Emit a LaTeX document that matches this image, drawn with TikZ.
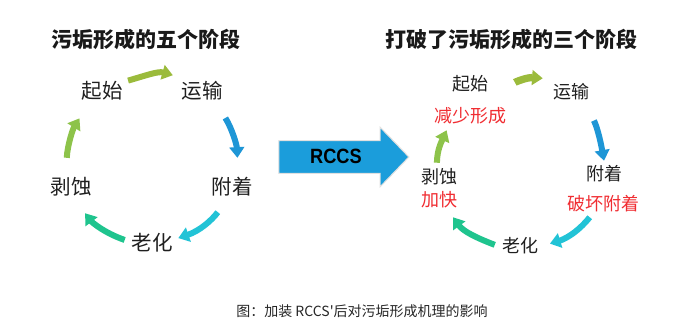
\documentclass[tikz,border=0pt]{standalone}
\usepackage{fontspec}
\usepackage{tikz}
\usetikzlibrary{arrows.meta,shapes.arrows}
\setmainfont{Noto Sans CJK SC}
\newfontfamily\rccsfont{Liberation Sans}[FakeStretch=0.88]
\definecolor{grnA}{RGB}{155,187,60}
\definecolor{grnB}{RGB}{141,195,74}
\definecolor{bluA}{RGB}{30,150,214}
\definecolor{cyaA}{RGB}{34,195,214}
\definecolor{teaA}{RGB}{31,196,142}
\definecolor{bigA}{RGB}{27,157,219}
\definecolor{redA}{RGB}{240,45,50}

\begin{document}
\begin{tikzpicture}[x=0.75pt,y=0.75pt,
ttl/.style={font=\fontsize{15.75pt}{18pt}\selectfont\bfseries,text=black!90},
stg/.style={font=\fontsize{15.4pt}{18pt}\selectfont,inner sep=3pt,text height=13pt,text depth=2.4pt,text=black!88},
stgr/.style={font=\fontsize{13.5pt}{16pt}\selectfont,inner sep=3pt,text height=11.4pt,text depth=2.1pt,text=black!88},
note/.style={stgr,text=redA},
arr/.style={line width=4.5pt,-{Triangle[length=8pt,width=11pt]}}]
\useasboundingbox (0,0) rectangle (700,335);
\node[ttl] (tL) at (146,295) {污垢形成的五个阶段};
\node[stg] (qsL) at (102,244) {起始};
\node[stg] (ysL) at (202,244) {运输};
\node[stg] (fzL) at (232,148) {附着};
\node[stg] (lhL) at (152,92) {老化};
\node[stg] (bsL) at (71,148) {剥蚀};
\draw[arr,grnA,shorten <=1pt,shorten >=3.4pt] (qsL.22) to[out=16,in=164] (ysL.north west);
\draw[arr,bluA,shorten <=11pt,shorten >=11pt] (ysL.-43) to[out=-58,in=93] (fzL.67);
\draw[arr,cyaA,shorten <=10pt,shorten >=1.2pt] (fzL.247) to[out=-127,in=19] (lhL.10);
\draw[arr,teaA,shorten <=2pt,shorten >=11pt] (lhL.175) to[out=161,in=-53] (bsL.-70);
\draw[arr,grnB,shorten <=11pt,shorten >=11.3pt] (bsL.109) to[out=87,in=-122] (qsL.225);
\node[single arrow,fill=bigA,draw=black!12,line width=0.8pt,minimum height=97.5pt,
  inner xsep=0pt,inner ysep=6.6pt,text height=10.5pt,text depth=0pt,
  single arrow head extend=10.1pt,single arrow tip angle=92,
  font=\rccsfont\bfseries\fontsize{15.5pt}{17pt}\selectfont] (rccs) at (336,178) {RCCS};
\node[ttl] (tR) at (511,295) {打破了污垢形成的三个阶段};
\node[stgr] (qsR) at (470,251) {起始};
\node[note] (jsR) at (470,219) {减少形成};
\node[stgr] (ysR) at (571,243) {运输};
\node[stgr] (fzR) at (604,161) {附着};
\node[note] (phR) at (603,131) {破坏附着};
\node[stgr] (lhR) at (520,89) {老化};
\node[stgr] (bsR) at (439,158) {剥蚀};
\node[note] (jkR) at (439,135) {加快};
\draw[arr,grnA,line width=5.5pt,shorten <=17pt,shorten >=4.5pt] (qsR.east) to[out=4,in=176] (ysR.north west);
\draw[arr,bluA,shorten <=13pt] (ysR.-42) to[out=-62,in=100] (fzR.north);
\draw[arr,cyaA,shorten >=6pt] (phR.225) to[out=-129,in=17] (lhR.east);
\draw[arr,teaA,shorten <=2.4pt,shorten >=3.7pt] (lhR.west) to[out=159,in=-54] (jkR.-50);
\draw[arr,grnB,shorten <=0.75pt,shorten >=0.8pt] (bsR.99) to[out=89,in=-114] (jsR.210);
\node[font=\fontsize{10.5pt}{12pt}\selectfont,text=black!85] (cap) at (362,24) {图：加装 RCCS\textquotesingle 后对污垢形成机理的影响};
\end{tikzpicture}
\end{document}
